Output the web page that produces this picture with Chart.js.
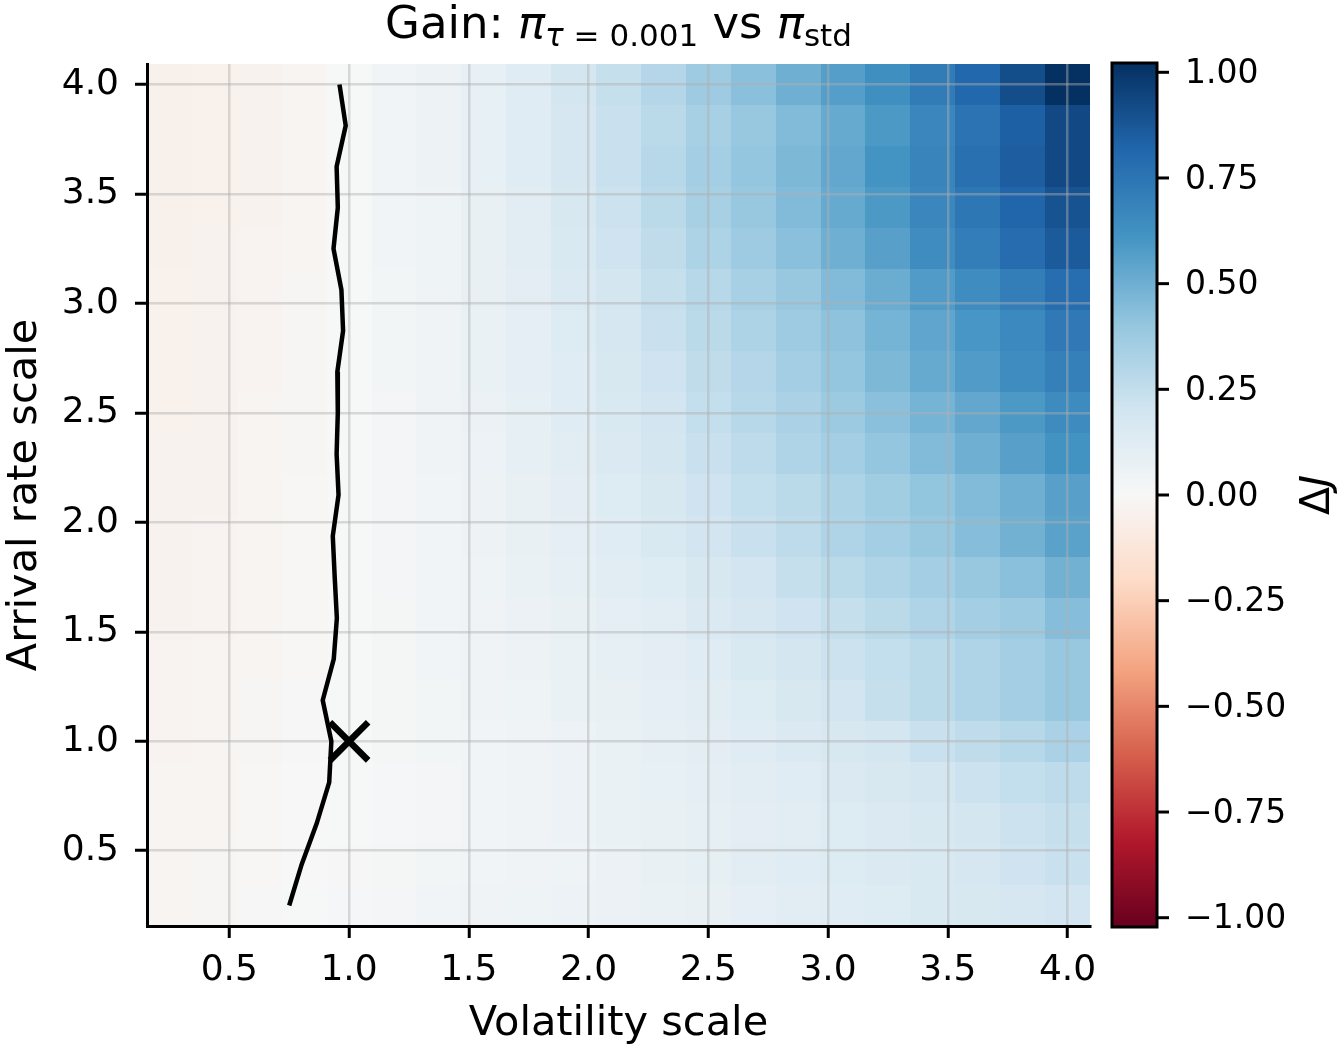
<!DOCTYPE html>
<html lang="en">
<head>
    <meta charset="UTF-8">
    <title>Gain heatmap</title>
    <script src="https://cdn.jsdelivr.net/npm/chart.js"></script>
    <style>
        body {
            margin: 0;
            padding: 0;
            background-color: #fff;
        }

        #chart-box {
            width: 1339px;
            height: 1049px;
        }
    </style>
</head>
<body>
    <div id="chart-box">
        <canvas id="gainChart" width="1339" height="1049"></canvas>
    </div>

    <script>
        // grid centres (volatility along x, arrival rate along y, top row first)
        const volScale = [0.25, 0.4375, 0.625, 0.8125, 1.0, 1.1875, 1.375, 1.5625, 1.75, 1.9375, 2.125,
                          2.3125, 2.5, 2.6875, 2.875, 3.0625, 3.25, 3.4375, 3.625, 3.8125, 4.0];
        const arrivalScale = [4.0, 3.8125, 3.625, 3.4375, 3.25, 3.0625, 2.875, 2.6875, 2.5, 2.3125, 2.125,
                              1.9375, 1.75, 1.5625, 1.375, 1.1875, 1.0, 0.8125, 0.625, 0.4375, 0.25];

        // ΔJ per cell, one row per arrival rate (same order as arrivalScale)
        const gain = [
            [-0.05, -0.045, -0.035, -0.02, 0.005, 0.03, 0.055, 0.085, 0.13, 0.19, 0.24, 0.30, 0.37, 0.43, 0.50, 0.57, 0.63, 0.72, 0.81, 0.91, 1.02],
            [-0.05, -0.045, -0.035, -0.02, 0.005, 0.03, 0.055, 0.085, 0.13, 0.18, 0.23, 0.28, 0.34, 0.39, 0.45, 0.52, 0.59, 0.67, 0.76, 0.84, 0.93],
            [-0.05, -0.045, -0.035, -0.02, 0.005, 0.03, 0.055, 0.085, 0.13, 0.18, 0.23, 0.29, 0.35, 0.40, 0.46, 0.53, 0.61, 0.68, 0.77, 0.85, 0.93],
            [-0.05, -0.045, -0.035, -0.02, 0.005, 0.03, 0.05, 0.08, 0.12, 0.17, 0.22, 0.28, 0.34, 0.39, 0.45, 0.52, 0.59, 0.67, 0.74, 0.82, 0.89],
            [-0.05, -0.04, -0.03, -0.02, 0.005, 0.03, 0.05, 0.08, 0.12, 0.16, 0.21, 0.26, 0.32, 0.37, 0.43, 0.50, 0.56, 0.64, 0.71, 0.79, 0.86],
            [-0.045, -0.04, -0.03, -0.015, 0.005, 0.025, 0.05, 0.075, 0.11, 0.15, 0.19, 0.24, 0.29, 0.34, 0.39, 0.45, 0.51, 0.58, 0.64, 0.71, 0.78],
            [-0.045, -0.04, -0.03, -0.015, 0.005, 0.025, 0.045, 0.07, 0.10, 0.14, 0.18, 0.23, 0.28, 0.32, 0.37, 0.42, 0.48, 0.54, 0.60, 0.66, 0.73],
            [-0.045, -0.04, -0.03, -0.015, 0.005, 0.025, 0.045, 0.07, 0.10, 0.13, 0.17, 0.21, 0.26, 0.30, 0.35, 0.40, 0.46, 0.52, 0.58, 0.64, 0.70],
            [-0.045, -0.035, -0.025, -0.015, 0.005, 0.02, 0.04, 0.065, 0.09, 0.13, 0.16, 0.20, 0.25, 0.29, 0.33, 0.38, 0.43, 0.48, 0.53, 0.59, 0.65],
            [-0.04, -0.035, -0.025, -0.015, 0.005, 0.02, 0.04, 0.06, 0.09, 0.12, 0.15, 0.19, 0.23, 0.27, 0.31, 0.35, 0.40, 0.45, 0.50, 0.56, 0.62],
            [-0.04, -0.035, -0.025, -0.01, 0.005, 0.02, 0.035, 0.055, 0.08, 0.11, 0.14, 0.17, 0.21, 0.25, 0.28, 0.32, 0.36, 0.41, 0.45, 0.50, 0.56],
            [-0.04, -0.03, -0.025, -0.01, 0.005, 0.02, 0.035, 0.055, 0.08, 0.10, 0.13, 0.16, 0.20, 0.23, 0.27, 0.31, 0.35, 0.39, 0.44, 0.49, 0.55],
            [-0.035, -0.03, -0.02, -0.01, 0.005, 0.02, 0.035, 0.05, 0.07, 0.09, 0.12, 0.14, 0.17, 0.20, 0.24, 0.28, 0.31, 0.35, 0.39, 0.43, 0.49],
            [-0.035, -0.03, -0.02, -0.01, 0.005, 0.015, 0.03, 0.045, 0.065, 0.08, 0.10, 0.12, 0.15, 0.18, 0.21, 0.24, 0.28, 0.31, 0.35, 0.38, 0.44],
            [-0.03, -0.025, -0.02, -0.01, 0.005, 0.015, 0.03, 0.04, 0.055, 0.07, 0.09, 0.11, 0.13, 0.16, 0.19, 0.22, 0.25, 0.28, 0.31, 0.35, 0.39],
            [-0.03, -0.025, -0.015, -0.005, 0.005, 0.015, 0.025, 0.04, 0.05, 0.07, 0.08, 0.10, 0.12, 0.14, 0.17, 0.20, 0.24, 0.28, 0.31, 0.35, 0.39],
            [-0.03, -0.02, -0.015, -0.005, 0.005, 0.015, 0.025, 0.035, 0.045, 0.06, 0.07, 0.09, 0.11, 0.13, 0.15, 0.17, 0.19, 0.23, 0.26, 0.29, 0.33],
            [-0.025, -0.02, -0.01, -0.002, 0.005, 0.012, 0.02, 0.03, 0.04, 0.06, 0.07, 0.085, 0.10, 0.12, 0.13, 0.15, 0.17, 0.19, 0.22, 0.25, 0.27],
            [-0.025, -0.02, -0.01, -0.002, 0.005, 0.012, 0.02, 0.03, 0.04, 0.06, 0.07, 0.08, 0.09, 0.11, 0.12, 0.14, 0.15, 0.17, 0.19, 0.22, 0.24],
            [-0.02, -0.015, -0.008, 0.001, 0.008, 0.015, 0.025, 0.035, 0.045, 0.05, 0.065, 0.08, 0.09, 0.12, 0.13, 0.14, 0.15, 0.16, 0.18, 0.21, 0.23],
            [-0.02, -0.015, -0.006, 0.003, 0.012, 0.02, 0.03, 0.04, 0.05, 0.06, 0.065, 0.07, 0.08, 0.10, 0.12, 0.13, 0.14, 0.16, 0.17, 0.18, 0.20]
        ];

        // zero-gain contour
        const contourVol = [0.96, 0.986, 0.948, 0.953, 0.935, 0.968, 0.975, 0.951, 0.953, 0.948, 0.956,
                            0.932, 0.94, 0.949, 0.936, 0.89, 0.926, 0.917, 0.865, 0.802, 0.75];
        const contourArrival = arrivalScale;

        // baseline parameters
        const baseVol = [1.0];
        const baseArrival = [1.0];

        const xTicks = [0.5, 1.0, 1.5, 2.0, 2.5, 3.0, 3.5, 4.0];
        const yTicks = [0.5, 1.0, 1.5, 2.0, 2.5, 3.0, 3.5, 4.0];
        const cbarTicks = [-1.0, -0.75, -0.5, -0.25, 0.0, 0.25, 0.5, 0.75, 1.0];
        const colorLimit = 1.022;

        const FONT = 'DejaVu Sans';
        Chart.defaults.font.family = FONT;
        Chart.defaults.color = '#000';

        // matplotlib RdBu
        const rdbuStops = [[103, 0, 31], [178, 24, 43], [214, 96, 77], [244, 165, 130], [253, 219, 199],
                           [247, 247, 247], [209, 229, 240], [146, 197, 222], [67, 147, 195], [33, 102, 172], [5, 48, 97]];

        function rdbu(v) {
            let t = (v + colorLimit) / (2 * colorLimit);
            t = Math.min(1, Math.max(0, t)) * 10;
            const i = Math.min(9, Math.floor(t));
            const f = t - i;
            const a = rdbuStops[i], b = rdbuStops[i + 1];
            const c = a.map((ch, k) => Math.round(ch + (b[k] - ch) * f));
            return 'rgb(' + c.join(',') + ')';
        }

        // cell edges half way between centres
        function cellEdges(centres) {
            const e = [centres[0] - (centres[1] - centres[0]) / 2];
            for (let i = 0; i < centres.length - 1; i++) e.push((centres[i] + centres[i + 1]) / 2);
            const n = centres.length;
            e.push(centres[n - 1] + (centres[n - 1] - centres[n - 2]) / 2);
            return e;
        }

        const xEdges = cellEdges(volScale);
        const yEdges = cellEdges(arrivalScale);

        const heatmapPlugin = {
            id: 'heatmap',
            beforeDraw(chart) {
                const { ctx, scales: { x, y } } = chart;
                ctx.save();
                gain.forEach((row, r) => {
                    const y0 = Math.round(y.getPixelForValue(yEdges[r]));
                    const y1 = Math.round(y.getPixelForValue(yEdges[r + 1]));
                    row.forEach((v, c) => {
                        const x0 = Math.round(x.getPixelForValue(xEdges[c]));
                        const x1 = Math.round(x.getPixelForValue(xEdges[c + 1]));
                        ctx.fillStyle = rdbu(v);
                        ctx.fillRect(x0, Math.min(y0, y1), x1 - x0, Math.abs(y1 - y0));
                    });
                });
                ctx.restore();
            }
        };

        const colorbarPlugin = {
            id: 'colorbar',
            afterDraw(chart) {
                const { ctx, chartArea } = chart;
                const left = chartArea.right + 22;
                const width = 45;
                const top = chartArea.top - 1;
                const bottom = chartArea.bottom + 1;
                const toPx = v => top + (colorLimit - v) / (2 * colorLimit) * (bottom - top);

                ctx.save();
                for (let py = top; py < bottom; py++) {
                    const v = colorLimit - (py + 0.5 - top) / (bottom - top) * 2 * colorLimit;
                    ctx.fillStyle = rdbu(v);
                    ctx.fillRect(left, py, width, 1);
                }
                ctx.strokeStyle = '#000';
                ctx.lineWidth = 3;
                ctx.strokeRect(left, top, width, bottom - top);

                ctx.font = '33px "' + FONT + '"';
                ctx.fillStyle = '#000';
                ctx.textAlign = 'left';
                ctx.textBaseline = 'middle';
                cbarTicks.forEach(v => {
                    const py = toPx(v);
                    ctx.beginPath();
                    ctx.moveTo(left + width, py);
                    ctx.lineTo(left + width + 12, py);
                    ctx.stroke();
                    ctx.fillText(v.toFixed(2).replace('-', '\u2212'), left + width + 28, py + 2);
                });

                // colorbar label ΔJ, rotated
                ctx.translate(1318, (top + bottom) / 2);
                ctx.rotate(-Math.PI / 2);
                ctx.textBaseline = 'middle';
                const upright = '41px "' + FONT + '"';
                const slanted = 'italic 41px "' + FONT + '"';
                ctx.font = upright;
                const wD = ctx.measureText('\u0394').width;
                ctx.font = slanted;
                const wJ = ctx.measureText('J').width;
                let tx = -(wD + wJ) / 2;
                ctx.font = upright;
                ctx.fillText('\u0394', tx, 0);
                ctx.font = slanted;
                ctx.fillText('J', tx + wD, 0);
                ctx.restore();
            }
        };

        // title with subscripts: Gain: π_{τ = 0.001} vs π_std
        const titlePlugin = {
            id: 'mathTitle',
            afterDraw(chart) {
                const { ctx, chartArea } = chart;
                const big = 45, small = 31, base = 38, sub = 8;
                const parts = [
                    { t: 'Gain: ', size: big, italic: false, dy: 0 },
                    { t: '\u03c0', size: big, italic: true, dy: 0 },
                    { t: '\u03c4', size: small, italic: true, dy: sub },
                    { t: ' = 0.001', size: small, italic: false, dy: sub },
                    { t: ' vs ', size: big, italic: false, dy: 0 },
                    { t: '\u03c0', size: big, italic: true, dy: 0 },
                    { t: 'std', size: small, italic: false, dy: sub }
                ];
                ctx.save();
                ctx.fillStyle = '#000';
                ctx.textBaseline = 'alphabetic';
                ctx.textAlign = 'left';
                const fontOf = p => (p.italic ? 'italic ' : '') + p.size + 'px "' + FONT + '"';
                let total = 0;
                parts.forEach(p => {
                    ctx.font = fontOf(p);
                    p.w = ctx.measureText(p.t).width;
                    total += p.w;
                });
                let x = (chartArea.left + chartArea.right) / 2 - total / 2;
                parts.forEach(p => {
                    ctx.font = fontOf(p);
                    ctx.fillText(p.t, x, base + p.dy);
                    x += p.w;
                });
                ctx.restore();
            }
        };

        const gridStyle = {
            color: 'rgba(176, 176, 176, 0.45)',
            lineWidth: 2.5,
            drawTicks: true,
            tickLength: 12,
            tickColor: '#000',
            tickWidth: 3
        };

        const config = {
            type: 'scatter',
            data: {
                datasets: [
                    {
                        label: 'baseline',
                        data: baseVol.map((v, i) => ({ x: v, y: baseArrival[i] })),
                        showLine: false,
                        pointStyle: 'crossRot',
                        pointRadius: 27,
                        pointBorderWidth: 6.5,
                        pointBorderColor: '#000',
                        pointBackgroundColor: '#000'
                    },
                    {
                        label: 'ΔJ = 0',
                        data: contourVol.map((v, i) => ({ x: v, y: contourArrival[i] })),
                        showLine: true,
                        borderColor: '#000',
                        borderWidth: 4.5,
                        pointRadius: 0,
                        tension: 0
                    }
                ]
            },
            options: {
                responsive: false,
                animation: false,
                devicePixelRatio: 1,
                layout: {
                    padding: { top: 64, right: 249, bottom: 0, left: 0 }
                },
                plugins: {
                    legend: { display: false },
                    tooltip: { enabled: false }
                },
                scales: {
                    x: {
                        type: 'linear',
                        min: xEdges[0],
                        max: xEdges[xEdges.length - 1],
                        afterBuildTicks: s => { s.ticks = xTicks.map(v => ({ value: v })); },
                        afterFit: s => { s.height = 123; },
                        ticks: {
                            font: { size: 36 },
                            color: '#000',
                            padding: 11,
                            maxRotation: 0,
                            autoSkip: false,
                            callback: v => v.toFixed(1)
                        },
                        grid: gridStyle,
                        border: { display: true, color: '#000', width: 3 },
                        title: {
                            display: true,
                            text: 'Volatility scale',
                            font: { size: 41.5 },
                            color: '#000',
                            padding: { top: 0, bottom: 0 }
                        }
                    },
                    y: {
                        type: 'linear',
                        min: yEdges[yEdges.length - 1],
                        max: yEdges[0],
                        afterBuildTicks: s => { s.ticks = yTicks.map(v => ({ value: v })); },
                        afterFit: s => { s.width = 147; },
                        ticks: {
                            font: { size: 36 },
                            color: '#000',
                            padding: 16,
                            autoSkip: false,
                            callback: v => v.toFixed(1)
                        },
                        grid: gridStyle,
                        border: { display: true, color: '#000', width: 3 },
                        title: {
                            display: true,
                            text: 'Arrival rate scale',
                            font: { size: 41.5 },
                            color: '#000',
                            padding: { top: 0, bottom: 0 }
                        }
                    }
                }
            },
            plugins: [heatmapPlugin, colorbarPlugin, titlePlugin]
        };

        const gainChart = new Chart(document.getElementById('gainChart'), config);
    </script>
</body>
</html>
